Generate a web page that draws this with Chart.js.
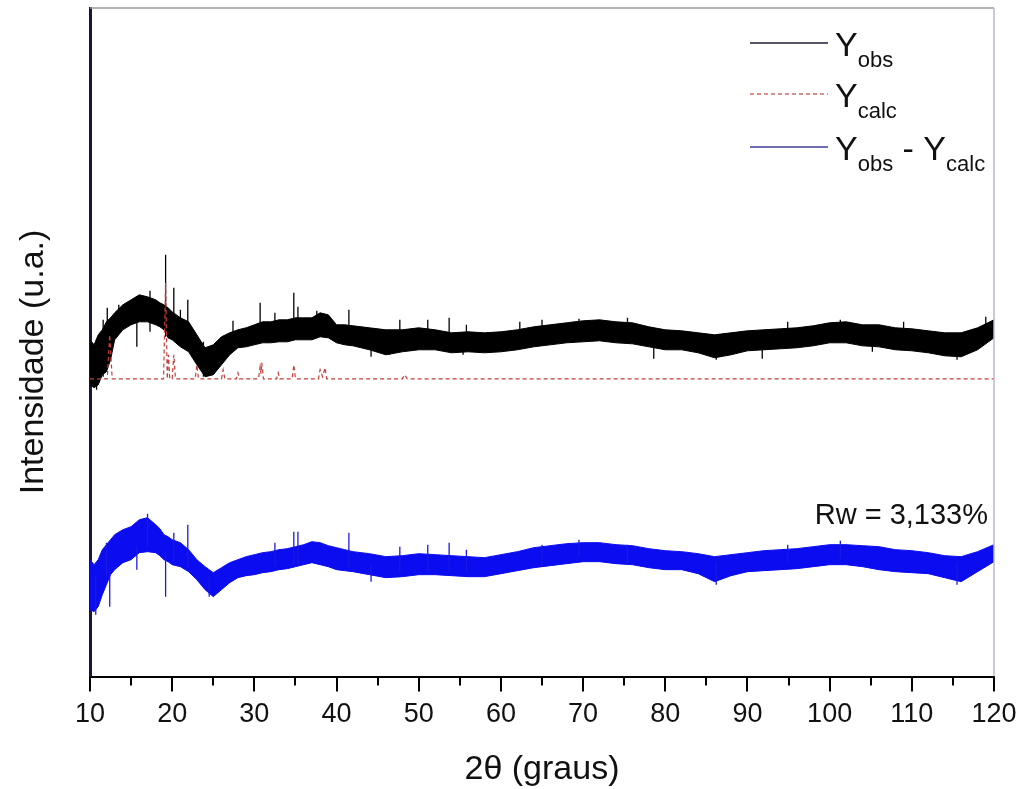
<!DOCTYPE html>
<html>
<head>
<meta charset="utf-8">
<script src="https://cdn.jsdelivr.net/npm/chart.js@4.4.1/dist/chart.umd.min.js"></script>
<style>
  html, body { margin: 0; padding: 0; background: #fff; }
</style>
</head>
<body>
<canvas id="xrd" width="1024" height="789"></canvas>
<script>
// grille 2theta des enveloppes (bruit observe / difference)
const bandX = [10, 10.5, 11, 11.5, 12, 12.5, 13, 14, 15, 16, 17, 18, 18.5, 19, 19.5, 20,
  21, 22, 23, 24, 25, 26, 27, 28, 29, 30, 31, 32, 33, 34, 35, 36, 37, 38, 39, 40, 41, 42,
  44, 46, 48, 50, 52, 54, 56, 58, 60, 62, 64, 66, 68, 70, 72, 74, 76, 78, 80,
  82, 84, 86, 88, 90, 92, 94, 96, 98, 100, 102, 104, 106, 108, 110, 112, 114, 116, 118, 120];

const obsTop = [337, 332, 342, 347, 355, 359, 364, 372, 377, 382, 380, 377, 374, 372, 369, 365,
  359, 355, 342, 329, 332, 340, 344, 347, 349, 352, 355, 355, 357, 357, 359, 359, 359, 364, 362, 352, 352, 351,
  349, 347, 347, 349, 347, 344, 345, 344, 345, 347, 350, 352, 354, 356, 357, 355, 354, 350, 347,
  346, 344, 342, 344, 346, 347, 348, 349, 351, 354, 355, 352, 352, 349, 348, 346, 344, 344, 349, 357];

const obsBottom = [292, 289, 292, 302, 305, 317, 337, 347, 352, 355, 355, 352, 350, 347, 339, 337,
  330, 325, 312, 300, 302, 312, 322, 329, 330, 332, 334, 334, 335, 335, 337, 337, 337, 340, 339, 334, 332, 331,
  327, 322, 325, 327, 327, 324, 325, 324, 325, 327, 330, 332, 334, 335, 336, 334, 333, 330, 327,
  327, 324, 319, 322, 326, 327, 328, 329, 331, 334, 334, 331, 330, 327, 326, 324, 321, 320, 327, 339];

const diffTop = [117, 112, 117, 127, 132, 137, 142, 147, 150, 157, 159, 152, 148, 142, 140, 137,
  134, 127, 117, 110, 104, 109, 114, 117, 120, 122, 124, 125, 127, 128, 130, 132, 135, 134, 131, 129, 127, 125,
  123, 120, 121, 123, 122, 121, 120, 119, 122, 125, 129, 131, 133, 134, 134, 132, 131, 128, 126,
  125, 123, 120, 122, 124, 126, 127, 128, 130, 132, 132, 131, 130, 127, 126, 124, 121, 120, 125, 132];

const diffBottom = [67, 65, 70, 82, 92, 102, 107, 114, 117, 124, 125, 124, 121, 117, 115, 112,
  110, 105, 97, 87, 80, 87, 94, 99, 101, 102, 104, 105, 107, 108, 110, 112, 114, 112, 110, 107, 106, 105,
  102, 99, 100, 102, 102, 101, 100, 100, 103, 106, 109, 111, 113, 115, 115, 113, 112, 109, 107,
  107, 103, 95, 101, 105, 106, 107, 108, 110, 112, 112, 110, 107, 105, 104, 103, 99, 95, 105, 115];

// pics fins qui sortent du bruit : [2theta, bas, haut]
const obsSpikes = [[10.8, 287, 320], [11.6, 300, 357], [12.1, 310, 369], [13.5, 345, 372],
  [15.7, 330, 360], [17.3, 345, 386], [19.2, 340, 422], [20.2, 340, 389], [21.0, 335, 367],
  [21.9, 330, 377], [23.8, 300, 335], [27.4, 340, 356], [30.7, 340, 374], [32.5, 340, 364],
  [34.8, 340, 384], [35.3, 340, 370], [37.6, 345, 366], [41.5, 340, 367], [44.2, 320, 340],
  [46.5, 322, 340], [47.7, 335, 357], [51.1, 335, 357], [53.7, 335, 359], [55.4, 322, 340],
  [55.8, 340, 352], [62.3, 340, 355], [65.0, 340, 357], [69.5, 345, 358], [75.4, 340, 359],
  [78.6, 318, 335], [86.2, 317, 335], [91.8, 318, 333], [94.9, 335, 355], [101.3, 340, 357],
  [105.2, 325, 340], [109.0, 340, 355], [115.5, 317, 335], [119.0, 345, 360]];

const diffSpikes = [[10.7, 62, 100], [12.0, 100, 134], [12.4, 70, 110], [15.7, 107, 130],
  [17.0, 130, 163], [19.2, 80, 125], [20.2, 115, 144], [21.9, 110, 152], [24.5, 80, 100],
  [32.5, 110, 134], [34.8, 112, 145], [35.3, 112, 145], [41.5, 110, 144], [44.2, 95, 112],
  [47.7, 105, 130], [51.1, 105, 132], [53.7, 105, 134], [55.8, 105, 127], [65.0, 110, 132],
  [69.5, 120, 137], [75.4, 112, 132], [86.2, 92, 115], [94.9, 115, 132], [101.3, 118, 136],
  [115.5, 92, 115]];

// profil calcule
const calcX = [10, 12.1, 12.4, 12.7, 18.95, 19.2, 19.4, 19.55, 19.7, 20.0, 20.2, 20.4,
  22.8, 23.0, 23.2, 26.0, 26.2, 26.4, 27.8, 28.0, 28.2, 30.5, 30.7, 30.8, 30.9, 31.1,
  32.7, 32.9, 33.1, 34.6, 34.8, 35.0, 37.8, 38.0, 38.3, 38.6, 38.8, 48.0, 48.3, 48.6, 120];
const calcY = [298, 298, 342, 298, 298, 394, 298, 322, 298, 298, 322, 298,
  298, 312, 298, 298, 307, 298, 298, 304, 298, 298, 310, 303, 314, 298,
  298, 304, 298, 298, 312, 298, 298, 307, 300, 309, 298, 298, 302, 298, 298];

const xTicks = [10, 20, 30, 40, 50, 60, 70, 80, 90, 100, 110, 120];
const xTitle = "2\u03b8 (graus)";
const yTitle = "Intensidade (u.a.)";
const rwText = "Rw = 3,133%";

const FONT = "'Liberation Sans', Arial, sans-serif";

function toPoints(xs, ys) {
	return xs.map((x, i) => ({ x: x, y: ys[i] }));
}

function spikePoints(list) {
	const pts = [];
	list.forEach((s) => {
		pts.push({ x: s[0], y: s[1] }, { x: s[0], y: s[2] }, { x: s[0], y: null });
	});
	return pts;
}

/**
 * cadre, petites graduations, titres, legende
 */
const decorPlugin = {
	id: "decor",
	afterDatasetsDraw(chart) {
		const ctx = chart.ctx;
		const a = chart.chartArea;
		const xs = chart.scales.x;
		ctx.save();
		ctx.lineWidth = 1.5;
		ctx.strokeStyle = "#9a9a9a";
		ctx.beginPath();
		ctx.moveTo(a.left, a.top);
		ctx.lineTo(a.right, a.top);
		ctx.stroke();
		ctx.strokeStyle = "#b8b8cc";
		ctx.beginPath();
		ctx.moveTo(a.right, a.top);
		ctx.lineTo(a.right, a.bottom);
		ctx.stroke();

		// graduations (majeures 10, mineures 5)
		ctx.strokeStyle = "#000";
		ctx.lineWidth = 2;
		for (let v = 10; v <= 120; v += 5) {
			const px = Math.round(xs.getPixelForValue(v));
			const len = v % 10 === 0 ? 15 : 9;
			ctx.beginPath();
			ctx.moveTo(px, a.bottom);
			ctx.lineTo(px, a.bottom + len);
			ctx.stroke();
		}
		ctx.restore();
	},
	afterDraw(chart) {
		const ctx = chart.ctx;
		const a = chart.chartArea;
		ctx.save();
		ctx.fillStyle = "#111";

		// titres des axes
		ctx.font = "34px " + FONT;
		ctx.textAlign = "center";
		ctx.textBaseline = "alphabetic";
		ctx.fillText(xTitle, (a.left + a.right) / 2, 779);
		ctx.save();
		ctx.translate(43, 362);
		ctx.rotate(-Math.PI / 2);
		ctx.fillText(yTitle, 0, 0);
		ctx.restore();

		// Rw
		ctx.font = "29px " + FONT;
		ctx.textAlign = "right";
		ctx.fillText(rwText, 988, 524);

		// legende avec indices
		const rows = [
			{ y: 43, color: "#1c1c30", dash: [], parts: [["Y", 0], ["obs", 1]] },
			{ y: 94, color: "#d06a6a", dash: [4, 3], parts: [["Y", 0], ["calc", 1]] },
			{ y: 147, color: "#3c3c98", dash: [], parts: [["Y", 0], ["obs", 1], [" - ", 0], ["Y", 0], ["calc", 1]] },
		];
		ctx.textAlign = "left";
		rows.forEach((r) => {
			ctx.strokeStyle = r.color;
			ctx.lineWidth = 1.5;
			ctx.setLineDash(r.dash);
			ctx.beginPath();
			ctx.moveTo(750, r.y);
			ctx.lineTo(828, r.y);
			ctx.stroke();
			ctx.setLineDash([]);
			let tx = 835;
			const base = r.y + 13;
			r.parts.forEach((p) => {
				ctx.font = (p[1] ? "22px " : "34px ") + FONT;
				ctx.fillText(p[0], tx, p[1] ? base + 11 : base);
				tx += ctx.measureText(p[0]).width;
			});
		});
		ctx.restore();
	},
};

const ctx = document.getElementById("xrd").getContext("2d");

new Chart(ctx, {
	type: "line",
	data: {
		datasets: [
			{
				label: "Ycalc",
				data: toPoints(calcX, calcY),
				borderColor: "#c83c3c",
				borderWidth: 1.2,
				borderDash: [4, 3],
				fill: false,
				order: 0,
			},
			{
				label: "Yobs bas",
				data: toPoints(bandX, obsBottom),
				borderColor: "#000",
				borderWidth: 1,
				fill: false,
				order: 2,
			},
			{
				label: "Yobs",
				data: toPoints(bandX, obsTop),
				borderColor: "#000",
				backgroundColor: "#000",
				borderWidth: 1,
				fill: 1,
				order: 2,
			},
			{
				label: "Yobs pics",
				data: spikePoints(obsSpikes),
				borderColor: "#000",
				borderWidth: 1.3,
				spanGaps: false,
				fill: false,
				order: 1,
			},
			{
				label: "diff bas",
				data: toPoints(bandX, diffBottom),
				borderColor: "#0c0cf0",
				borderWidth: 1,
				fill: false,
				order: 2,
			},
			{
				label: "Yobs - Ycalc",
				data: toPoints(bandX, diffTop),
				borderColor: "#0c0cf0",
				backgroundColor: "#0c0cf0",
				borderWidth: 1,
				fill: 4,
				order: 2,
			},
			{
				label: "diff pics",
				data: spikePoints(diffSpikes),
				borderColor: "#1a1ae0",
				borderWidth: 1.3,
				spanGaps: false,
				fill: false,
				order: 1,
			},
		],
	},
	options: {
		responsive: false,
		animation: false,
		events: [],
		layout: { padding: { left: 90, top: 8, right: 30, bottom: 44 } },
		elements: { point: { radius: 0 }, line: { tension: 0 } },
		plugins: {
			legend: { display: false },
			tooltip: { enabled: false },
		},
		scales: {
			x: {
				type: "linear",
				min: 10,
				max: 120,
				afterBuildTicks: (scale) => {
					scale.ticks = xTicks.map((v) => ({ value: v }));
				},
				afterFit: (scale) => {
					// le "120" deborde dans la marge droite, comme sur l'original
					scale.paddingRight = 0;
					scale.paddingLeft = 0;
				},
				grid: { display: false },
				border: { display: true, color: "#000", width: 2 },
				ticks: {
					padding: 14,
					color: "#111",
					maxRotation: 0,
					autoSkip: false,
					font: { family: "'Liberation Sans Narrow', 'Liberation Sans', Arial, sans-serif", size: 27 },
				},
			},
			y: {
				min: 0,
				max: 669,
				ticks: { display: false },
				grid: { display: false, drawTicks: false },
				border: { display: true, color: "#17173c", width: 3 },
			},
		},
	},
	plugins: [decorPlugin],
});
</script>
</body>
</html>
